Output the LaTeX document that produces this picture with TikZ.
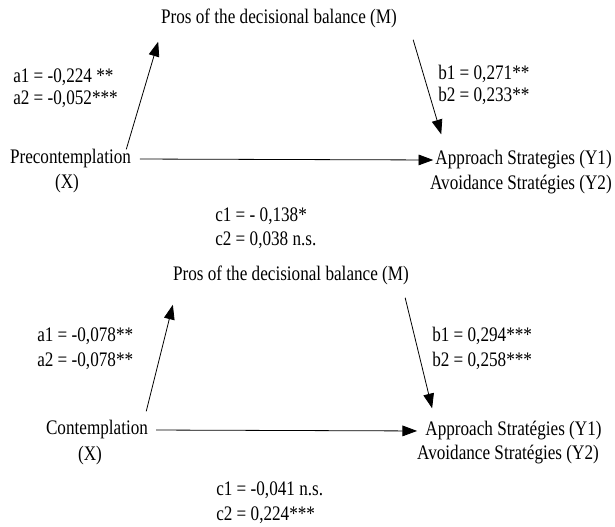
\documentclass[tikz,border=0pt]{standalone}
\usepackage{fontspec}
\setmainfont{Liberation Serif}[FakeStretch=0.83]
\usepackage{tikz}
\usetikzlibrary{arrows.meta}

\begin{document}
\begin{tikzpicture}[x=0.75pt, y=-0.75pt,
		lbl/.style = {inner sep=0pt, font=\fontsize{15.5}{16.5}\selectfont},
		path/.style = {line width=0.6pt, -{Triangle[length=11pt, width=8pt]}}]
		\useasboundingbox (0,0) rectangle (615,527);
		% first model
		\node[lbl] (m1) at (279,18) {Pros of the decisional balance (M)};
		\node[lbl, anchor=west, align=left] (a1) at (13,88) {a1 = -0,224 **\\ a2 = -0,052***};
		\node[lbl, anchor=west, align=left] (b1) at (438,84.5) {b1 = 0,271**\\ b2 = 0,233**};
		\node[lbl] (x1) at (70.5,159) {Precontemplation};
		\node[lbl] (xx1) at (67,184) {(X)};
		\node[lbl, anchor=east] (y1) at (612,160) {Approach Strategies (Y1)};
		\node[lbl, anchor=east] (yy1) at (612,185) {Avoidance Stratégies (Y2)};
		\node[lbl, anchor=west, align=left] (c1) at (215,228) {c1 = - 0,138*\\[1.5pt] c2 = 0,038 n.s.};
		\draw[path] ([xshift=-3.75pt]x1.north east) -- ([xshift=-2pt, yshift=-10.5pt]m1.south west);
		\draw[path] ([xshift=12pt, yshift=-9pt]m1.south east) -- ([xshift=4.5pt, yshift=12pt]y1.north west);
		\draw[path, shorten <=6.5pt, shorten >=1.5pt] (x1.east) -- (y1.west);
		% second model
		\node[lbl] (m2) at (291,275) {Pros of the decisional balance (M)};
		\node[lbl, anchor=west, align=left] (a2) at (37,348.5) {a1 = -0,078**\\[2pt] a2 = -0,078**};
		\node[lbl, anchor=west, align=left] (b2) at (432,348.5) {b1 = 0,294***\\[2pt] b2 = 0,258***};
		\node[lbl] (x2) at (97,430) {Contemplation};
		\node[lbl] (xx2) at (90,456) {(X)};
		\node[lbl] (y2) at (513.5,431) {Approach Stratégies (Y1)};
		\node[lbl] (yy2) at (508,455) {Avoidance Stratégies (Y2)};
		\node[lbl, anchor=west, align=left] (c2) at (216,502.5) {c1 = -0,041 n.s.\\[2pt] c2 = 0,224***};
		\draw[path] ([xshift=-1.5pt, yshift=6.75pt]x2.north east) -- ([yshift=-15pt]m2.south west);
		\draw[path] ([xshift=-3pt, yshift=-9.75pt]m2.south east) -- ([xshift=5.25pt, yshift=9.75pt]y2.north west);
		\draw[path, shorten <=6pt, shorten >=6pt] (x2.east) -- (y2.west);
	\end{tikzpicture}
\end{document}
